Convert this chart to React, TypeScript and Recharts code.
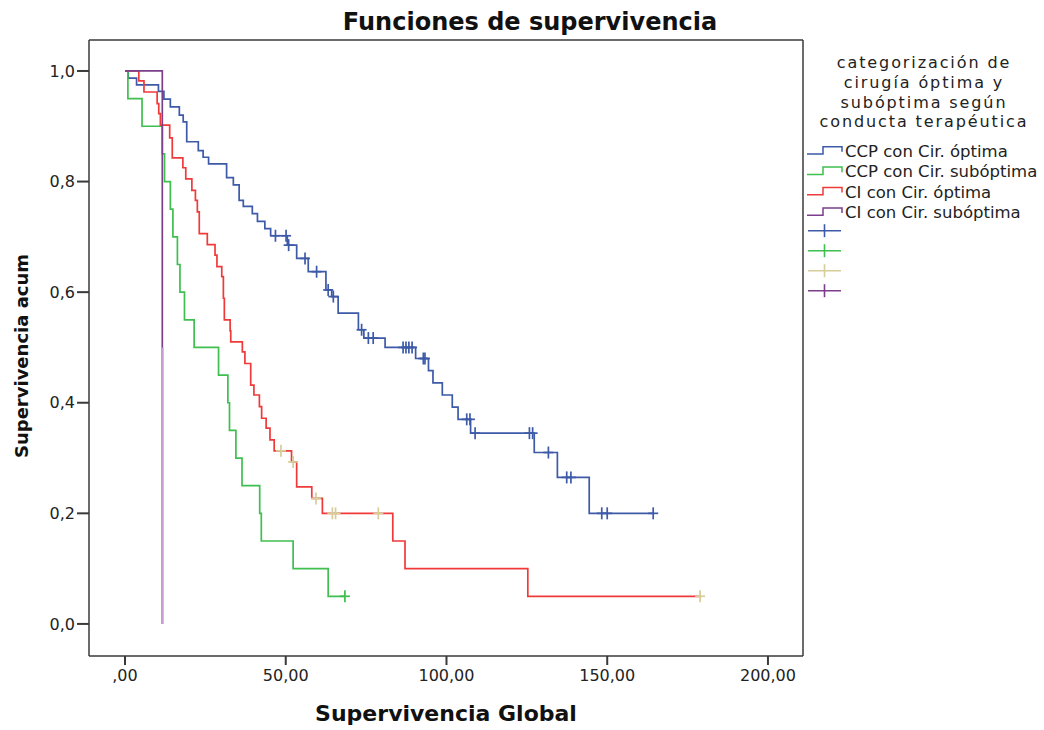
import { ComposedChart, Line, Scatter, XAxis, YAxis, ReferenceLine } from "recharts";

// Kaplan-Meier curves: event times (months) and survival after each event
const blueTimes = [1.0, 3.6, 10.4, 12.1, 14.1, 16.9, 18.1, 19.2, 22.8, 24.3, 26.0, 31.6, 33.7, 35.5, 36.8, 39.6, 41.2, 43.5, 45.3, 50.5, 53.4, 57.0, 62.5, 64.3, 66.3, 72.6, 74.3, 80.9, 90.4, 94.4, 95.8, 98.7, 101.8, 103.6, 107.5, 127.3, 134.5, 144.4];
const blueSurv = [0.987, 0.975, 0.963, 0.949, 0.935, 0.92, 0.908, 0.872, 0.856, 0.844, 0.832, 0.807, 0.794, 0.766, 0.755, 0.742, 0.728, 0.715, 0.702, 0.685, 0.661, 0.637, 0.604, 0.592, 0.562, 0.532, 0.517, 0.5, 0.48, 0.458, 0.436, 0.414, 0.392, 0.37, 0.345, 0.31, 0.265, 0.2];
const blueCensored = [46.8, 50.1, 50.9, 56.0, 59.6, 63.2, 64.8, 73.6, 75.7, 77.2, 86.5, 87.4, 88.3, 89.3, 92.8, 93.3, 106.3, 107.3, 108.9, 125.8, 126.8, 131.7, 137.4, 138.7, 148.3, 150.0, 164.3];

const greenTimes = [0.9, 5.3, 11.6, 12.3, 14.1, 14.9, 16.3, 17.1, 18.5, 21.5, 29.1, 32.0, 32.5, 34.5, 36.4, 41.9, 42.4, 52.3, 63.2];
const greenSurv = [0.95, 0.9, 0.85, 0.8, 0.75, 0.7, 0.65, 0.6, 0.55, 0.5, 0.45, 0.4, 0.35, 0.3, 0.25, 0.2, 0.15, 0.1, 0.05];
const greenCensored = [68.4];

const redTimes = [4.3, 5.9, 10.0, 10.5, 11.0, 13.9, 14.7, 18.0, 18.9, 20.8, 21.9, 22.5, 23.1, 25.6, 28.0, 28.6, 30.1, 30.6, 30.9, 32.7, 32.9, 36.5, 37.3, 39.1, 40.1, 41.8, 42.5, 43.9, 45.1, 46.4, 51.8, 53.4, 58.1, 61.4, 83.3, 87.1, 125.3];
const redSurv = [0.982, 0.962, 0.941, 0.923, 0.902, 0.879, 0.843, 0.825, 0.805, 0.784, 0.766, 0.745, 0.706, 0.686, 0.667, 0.646, 0.628, 0.589, 0.55, 0.53, 0.51, 0.492, 0.471, 0.432, 0.414, 0.393, 0.372, 0.354, 0.333, 0.313, 0.293, 0.248, 0.227, 0.2, 0.15, 0.1, 0.05];
const redCensored = [48.5, 52.3, 59.4, 64.5, 65.5, 78.8, 178.9];

const purpleTimes = [11.6, 11.6];
const purpleSurv = [0.5, 0.0];

const xTicks = [0, 50, 100, 150, 200];
const yTicks = [0, 0.2, 0.4, 0.6, 0.8, 1.0];

const groupNames = ["CCP con Cir. óptima", "CCP con Cir. subóptima", "CI con Cir. óptima", "CI con Cir. subóptima"];
const lineColors = ["#3d5aa8", "#3fbf4f", "#f03a3a", "#7b3f8c"];
const censorColors = ["#3d5aa8", "#3fbf4f", "#d6cd98", "#7b3f8c"];
const legendTitle = ["categorización de", "cirugía óptima y", "subóptima según", "conducta terapéutica"];

const X_MIN = -11.2;
const X_MAX = 210.9;
const Y_MIN = -0.058;
const Y_MAX = 1.056;
const FONT = "'DejaVu Sans', sans-serif";

type Pt = { t: number; s: number };

function steps(times: number[], surv: number[], end?: number): Pt[] {
  const pts: Pt[] = [{ t: 0, s: 1 }];
  times.forEach((t, i) => pts.push({ t, s: surv[i] }));
  if (end !== undefined) pts.push({ t: end, s: surv[surv.length - 1] });
  return pts;
}

function survAt(times: number[], surv: number[], t: number) {
  let s = 1;
  times.forEach((tt, i) => {
    if (tt <= t) s = surv[i];
  });
  return s;
}

function censor(times: number[], surv: number[], cens: number[]): Pt[] {
  return cens.map((t) => ({ t, s: survAt(times, surv, t) }));
}

const blueData = steps(blueTimes, blueSurv, blueCensored[blueCensored.length - 1]);
const greenData = steps(greenTimes, greenSurv, greenCensored[greenCensored.length - 1]);
const redData = steps(redTimes, redSurv, redCensored[redCensored.length - 1]);
const purpleData = steps(purpleTimes, purpleSurv);
const purpleLower = purpleData.slice(-2);

const plus = (color: string) => (props: any) => {
  const { cx, cy } = props;
  return (
    <g stroke={color} strokeWidth={1.7}>
      <line x1={cx} x2={cx} y1={cy - 6} y2={cy + 6} />
      <line x1={cx - 5} x2={cx + 5} y1={cy} y2={cy} />
    </g>
  );
};

const fmtY = (v: number) => v.toFixed(1).replace(".", ",");
const fmtX = (v: number) => (v === 0 ? ",00" : v.toFixed(2).replace(".", ","));

const YTitle = (props: any) => {
  const vb = props.viewBox;
  const x = vb.x + 22;
  const y = vb.y + vb.height / 2 + 8;
  return (
    <text x={x} y={y} dy="0.36em" transform={`rotate(-90, ${x}, ${y})`} textAnchor="middle" fontFamily={FONT} fontWeight="bold" fontSize={18} fill="#111">
      Supervivencia acum
    </text>
  );
};

export default function App() {
  return (
    <div style={{ position: "absolute", left: 0, top: 0, width: 1044, height: 730, background: "#fff" }}>
      <ComposedChart width={1044} height={730} margin={{ top: 40, right: 241, bottom: 0, left: 0 }}>
        <XAxis
          type="number"
          dataKey="t"
          domain={[X_MIN, X_MAX]}
          allowDataOverflow
          ticks={xTicks}
          tickFormatter={fmtX}
          height={74}
          tickSize={9}
          tickMargin={5}
          stroke="#3a3a3a"
          strokeWidth={1.5}
          tickLine={{ stroke: "#3a3a3a", strokeWidth: 2 }}
          tick={{ fontFamily: FONT, fontSize: 16, fill: "#222" }}
          label={{ value: "Supervivencia Global", position: "insideBottom", offset: 9, style: { fontFamily: FONT, fontWeight: "bold", fontSize: 22, fill: "#111" } }}
        />
        <YAxis
          type="number"
          dataKey="s"
          domain={[Y_MIN, Y_MAX]}
          allowDataOverflow
          ticks={yTicks}
          tickFormatter={fmtY}
          width={89}
          tickSize={12}
          tickMargin={2}
          stroke="#3a3a3a"
          strokeWidth={1.5}
          tickLine={{ stroke: "#3a3a3a", strokeWidth: 2 }}
          tick={{ fontFamily: FONT, fontSize: 16, fill: "#222" }}
          label={YTitle}
        />
        <ReferenceLine y={Y_MAX} stroke="#3a3a3a" strokeWidth={1.5} />
        <ReferenceLine x={X_MAX} stroke="#3a3a3a" strokeWidth={1.5} />

        <Line data={blueData} dataKey="s" type="stepAfter" stroke={lineColors[0]} strokeWidth={1.7} dot={false} isAnimationActive={false} />
        <Line data={greenData} dataKey="s" type="stepAfter" stroke={lineColors[1]} strokeWidth={1.7} dot={false} isAnimationActive={false} />
        <Line data={redData} dataKey="s" type="stepAfter" stroke={lineColors[2]} strokeWidth={1.7} dot={false} isAnimationActive={false} />
        <Line data={purpleData} dataKey="s" type="stepAfter" stroke={lineColors[3]} strokeWidth={1.7} dot={false} isAnimationActive={false} />
        <Line data={purpleLower} dataKey="s" type="linear" stroke="#c59ed2" strokeWidth={2.5} dot={false} isAnimationActive={false} />

        <Scatter data={censor(blueTimes, blueSurv, blueCensored)} dataKey="s" shape={plus(censorColors[0])} isAnimationActive={false} />
        <Scatter data={censor(greenTimes, greenSurv, greenCensored)} dataKey="s" shape={plus(censorColors[1])} isAnimationActive={false} />
        <Scatter data={censor(redTimes, redSurv, redCensored)} dataKey="s" shape={plus(censorColors[2])} isAnimationActive={false} />
      </ComposedChart>

      <svg width={1044} height={730} style={{ position: "absolute", left: 0, top: 0, pointerEvents: "none" }}>
        <text x={530} y={29.5} textAnchor="middle" fontFamily={FONT} fontWeight="bold" fontSize={24} fill="#111">
          Funciones de supervivencia
        </text>
        {legendTitle.map((line, i) => (
          <text key={line} x={924} y={68.3 + i * 19.6} textAnchor="middle" fontFamily={FONT} fontSize={16} letterSpacing={1.9} fill="#222">
            {line}
          </text>
        ))}
        {groupNames.map((name, i) => {
          const cy = 150.3 + i * 20.4;
          return (
            <g key={name}>
              <path d={`M807,${cy + 3.7} H823 V${cy - 3.6} H842 V${cy + 1.5}`} fill="none" stroke={lineColors[i]} strokeWidth={1.5} />
              <text x={845} y={cy + 6.4} fontFamily={FONT} fontSize={16.5} fill="#222">
                {name}
              </text>
            </g>
          );
        })}
        {censorColors.map((c, i) => {
          const cy = 230.7 + i * 20;
          return (
            <g key={i} stroke={c} strokeWidth={1.6}>
              <line x1={808} x2={841} y1={cy} y2={cy} />
              <line x1={824.5} x2={824.5} y1={cy - 6.5} y2={cy + 6.5} />
            </g>
          );
        })}
      </svg>
    </div>
  );
}
